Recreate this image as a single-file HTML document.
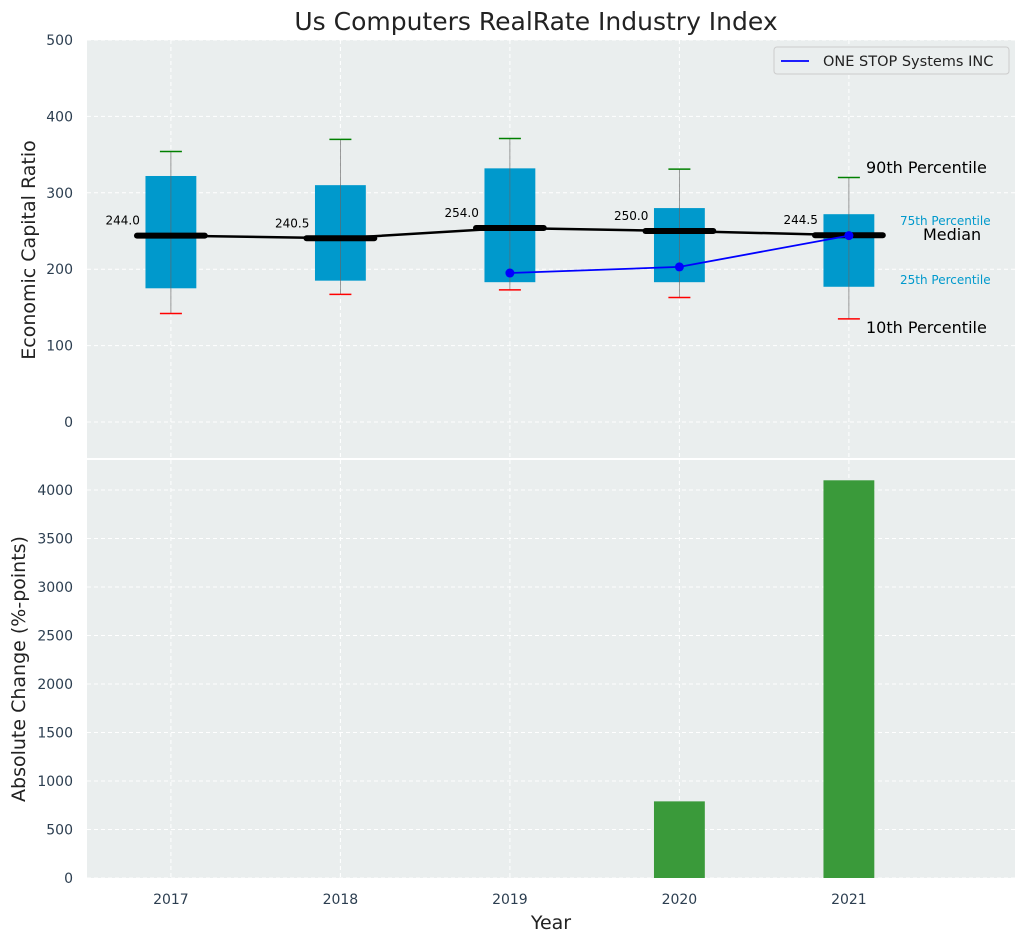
<!DOCTYPE html>
<html><head><meta charset="utf-8"><style>
body{margin:0;background:#fff;font-family:"Liberation Sans","DejaVu Sans",sans-serif}
</style></head><body>
<svg id="c" width="1026" height="942" xmlns="http://www.w3.org/2000/svg" font-family="DejaVu Sans, Liberation Sans, sans-serif"></svg>
<script>
const years=[2017,2018,2019,2020,2021];
const p10=[142,167,173,163,135];
const q1=[175,185,183,183,177];
const med=[244,240.5,254,250,244.5];
const q3=[322,310,332,280,272];
const p90=[354,370,371,331,320];
const compYears=[2019,2020,2021];
const compVals=[195,203,244];
const barYears=[2020,2021];
const barVals=[790,4100];
const topTicks=[0,100,200,300,400,500];
const botTicks=[0,500,1000,1500,2000,2500,3000,3500,4000];

const svg=document.getElementById('c');
const NS='http://www.w3.org/2000/svg';
function el(t,a,txt){const e=document.createElementNS(NS,t);for(const k in a)e.setAttribute(k,a[k]);if(txt!==undefined)e.textContent=txt;svg.appendChild(e);return e;}
const L=87,R=1015;
const X=v=>L+(v-2016.505)/(2021.98-2016.505)*(R-L);
const T0=40,T1=458;const YT=v=>422-v*0.764;
const B0=460,B1=878;const YB=v=>878-v*0.097;

let e;
e=el('text',{x:536,y:30,'text-anchor':'middle','font-size':25,fill:'#222'},'Us Computers RealRate Industry Index');

e=el('rect',{x:L,y:T0,width:R-L,height:T1-T0,fill:'#eaeeee'});

e=el('rect',{x:L,y:B0,width:R-L,height:B1-B0,fill:'#eaeeee'});

years.forEach(y=>{
 e=el('line',{x1:X(y),x2:X(y),y1:T0,y2:T1,stroke:'#fff','stroke-dasharray':'4,3'});
 
 e=el('line',{x1:X(y),x2:X(y),y1:B0,y2:B1,stroke:'#fff','stroke-dasharray':'4,3'});
 
 e=el('text',{x:X(y),y:904,'text-anchor':'middle','font-size':14,fill:'#2c3e50'},y);
 
});
topTicks.forEach(t=>{
 e=el('line',{x1:L,x2:R,y1:YT(t),y2:YT(t),stroke:'#fff','stroke-dasharray':'4,3'});
 
 e=el('text',{x:73,y:YT(t)+5,'text-anchor':'end','font-size':14,fill:'#2c3e50'},t);
 
});
botTicks.forEach(t=>{
 e=el('line',{x1:L,x2:R,y1:YB(t),y2:YB(t),stroke:'#fff','stroke-dasharray':'4,3'});
 
 e=el('text',{x:73,y:YB(t)+5,'text-anchor':'end','font-size':14,fill:'#2c3e50'},t);
 
});
e=el('line',{x1:L,x2:R,y1:459,y2:459,stroke:'#fff','stroke-width':2});

const bw=X(2017.15)-X(2017);
years.forEach((y,i)=>{
 const cx=X(y);
 e=el('rect',{x:cx-bw,y:YT(q3[i]),width:2*bw,height:YT(q1[i])-YT(q3[i]),fill:'#0099cc'});
 
 e=el('line',{x1:cx,x2:cx,y1:YT(p10[i]),y2:YT(p90[i]),stroke:'#666','stroke-width':0.8,opacity:0.8});
 
 e=el('line',{x1:cx-11,x2:cx+11,y1:YT(p90[i]),y2:YT(p90[i]),stroke:'green','stroke-width':1.5});
 
 e=el('line',{x1:cx-11,x2:cx+11,y1:YT(p10[i]),y2:YT(p10[i]),stroke:'red','stroke-width':1.5});
 
});
e=el('polyline',{points:years.map((y,i)=>X(y)+','+YT(med[i])).join(' '),fill:'none',stroke:'#000','stroke-width':2.5});

const mw=X(2017.2)-X(2017);
years.forEach((y,i)=>{
 const cx=X(y);
 e=el('line',{x1:cx-mw,x2:cx+mw,y1:YT(med[i]),y2:YT(med[i]),stroke:'#000','stroke-width':6,'stroke-linecap':'round'});
 
 e=el('text',{x:cx-31,y:YT(med[i])-11,'text-anchor':'end','font-size':12,fill:'#000'},med[i].toFixed(1));
 
});
e=el('polyline',{points:compYears.map((y,i)=>X(y)+','+YT(compVals[i])).join(' '),fill:'none',stroke:'blue','stroke-width':1.8});

compYears.forEach((y,i)=>{e=el('circle',{cx:X(y),cy:YT(compVals[i]),r:4.5,fill:'blue'});
 });
const ann=[[866,173,'90th Percentile',16,'#000'],[900,225,'75th Percentile',12,'#0099cc'],[923,240,'Median',16,'#000'],[900,284,'25th Percentile',12,'#0099cc'],[866,333,'10th Percentile',16,'#000']];
ann.forEach(a=>{e=el('text',{x:a[0],y:a[1],'font-size':a[3],fill:a[4]},a[2]);
 });
e=el('rect',{x:774,y:47,width:235,height:27,rx:3,fill:'#eaeeee',stroke:'#ccc'});

e=el('line',{x1:781,x2:809,y1:61,y2:61,stroke:'blue','stroke-width':1.8});

e=el('text',{x:823,y:66,'font-size':14.5,fill:'#222'},'ONE STOP Systems INC');

barYears.forEach((y,i)=>{e=el('rect',{x:X(y)-bw,y:YB(barVals[i]),width:2*bw,height:YB(0)-YB(barVals[i]),fill:'#3a9a3a'});
 });
e=el('text',{x:0,y:0,'font-size':19,fill:'#222','text-anchor':'middle',transform:'translate(35,250) rotate(-90)'},'Economic Capital Ratio');

e=el('text',{x:0,y:0,'font-size':19,fill:'#222','text-anchor':'middle',transform:'translate(25,669) rotate(-90)'},'Absolute Change (%-points)');

e=el('text',{x:551,y:929,'font-size':19,fill:'#222','text-anchor':'middle'},'Year');

</script>
</body></html>
